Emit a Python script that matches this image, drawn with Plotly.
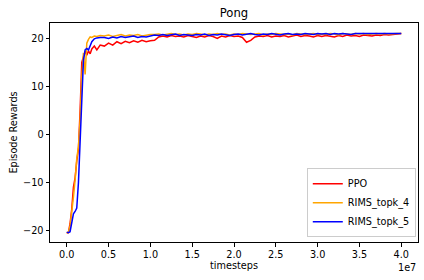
import plotly.graph_objects as go

# timesteps (in units of 1e7)
t_early = [0.00, 0.02, 0.04, 0.06, 0.08, 0.10, 0.12, 0.14, 0.16, 0.18, 0.20,
           0.22, 0.24, 0.26, 0.28, 0.30, 0.33, 0.36, 0.40]
t_late = [round(0.45 + 0.05 * i, 2) for i in range(72)]
timesteps = [v * 1e7 for v in t_early + t_late]

ppo = [-20.5, -20.4, -18.5, -15.5, -11.0, -9.0, -5.5, -3.0, 5.0, 15.0, 16.2,
       17.3, 16.5, 17.4, 16.8, 17.8, 18.4, 17.6, 18.6,
       18.4, 19.0, 18.6, 19.3, 18.9, 19.4, 19.1, 19.5, 19.2, 19.6, 19.3, 19.5,
       19.6, 20.3, 20.5, 20.3, 20.6, 20.4, 20.5, 20.3, 20.6, 20.4, 20.2, 20.5, 20.3, 20.6, 20.4, 20.0, 20.5, 20.3, 20.6, 20.4,
       20.5, 20.2, 19.2, 19.6, 20.3, 20.5, 20.4, 20.6, 20.3, 20.5, 20.4, 20.6, 20.3, 20.5, 20.7, 20.4, 20.6, 20.5, 20.3, 20.6,
       20.4, 20.6, 20.5, 20.3, 20.6, 20.4, 20.7, 20.5, 20.6, 20.4, 20.7, 20.6, 20.5, 20.7, 20.6, 20.8, 20.7, 20.8, 20.9, 21.0]

rims_topk_4 = [-20.5, -20.3, -19.0, -16.5, -13.0, -9.5, -5.0, -2.5, 3.0, 12.0, 17.0,
               12.5, 19.0, 19.8, 20.3, 20.2, 20.5, 20.4, 20.6,
               20.5, 20.7, 20.4, 20.6, 20.8, 20.5, 20.7, 20.6, 20.8, 20.5, 20.7, 20.8,
               20.8, 20.9, 20.7, 20.8, 21.0, 20.8, 20.9, 20.7, 20.9, 20.8, 21.0, 20.9, 20.7, 20.9, 20.8, 21.0, 20.8, 20.9, 20.7, 20.9,
               20.8, 21.0, 20.9, 20.8, 20.9, 21.0, 20.7, 20.9, 20.8, 21.0, 20.9, 20.8, 20.9, 20.7, 21.0, 20.9, 20.8, 20.9, 21.0, 20.8,
               20.9, 20.8, 21.0, 20.9, 20.7, 21.0, 20.9, 20.8, 21.0, 20.9, 21.0, 20.8, 20.9, 21.0, 20.9, 21.0, 20.9, 21.0, 21.0, 21.0]

rims_topk_5 = [-20.3, -20.4, -20.2, -18.5, -16.5, -16.0, -15.3, -10.0, -2.0, 8.0, 15.5,
               17.6, 17.9, 17.6, 18.7, 19.3, 19.9, 20.1, 20.2,
               20.2, 20.0, 20.3, 20.1, 20.4, 20.2, 20.3, 20.5, 20.2, 20.4, 20.3, 20.5,
               20.7, 20.6, 20.8, 20.6, 20.7, 20.9, 20.6, 20.8, 20.7, 20.6, 20.8, 20.7, 20.9, 20.6, 20.8, 20.7, 20.9, 20.8, 20.6, 20.8,
               20.9, 20.7, 20.8, 21.0, 20.8, 20.7, 20.9, 20.8, 21.0, 20.9, 20.7, 20.9, 21.0, 20.8, 20.9, 20.8, 21.0, 20.9, 20.8, 21.0,
               20.9, 21.0, 20.8, 21.0, 20.9, 21.0, 20.9, 20.8, 21.0, 21.0, 20.9, 21.0, 20.9, 21.0, 21.0, 20.9, 21.0, 21.0, 21.0, 21.0]

series = [("PPO", ppo, "red"), ("RIMS_topk_4", rims_topk_4, "orange"), ("RIMS_topk_5", rims_topk_5, "blue")]

x_tick_vals = [0.0, 0.5, 1.0, 1.5, 2.0, 2.5, 3.0, 3.5, 4.0]
x_tick_text = ["0.0", "0.5", "1.0", "1.5", "2.0", "2.5", "3.0", "3.5", "4.0"]
y_tick_vals = [-20, -10, 0, 10, 20]
y_tick_text = ["\u221220", "\u221210", "0", "10", "20"]

fig = go.Figure()
for name, ys, color in series:
    fig.add_trace(go.Scatter(x=timesteps, y=ys, mode="lines", name=name,
                             line=dict(color=color, width=1.5)))

FS = 9.7
font = dict(family="DejaVu Sans", size=FS, color="black")
fig.update_layout(
    width=424, height=280,
    margin=dict(l=50, r=6, t=22.5, b=38.3, autoexpand=False),
    plot_bgcolor="white", paper_bgcolor="white",
    font=font,
    title=dict(text="Pong", x=(50 + 418) / 2 / 424, xanchor="center", y=1 - 13 / 280, yanchor="middle",
               font=dict(family="DejaVu Sans", size=11.6, color="black")),
    showlegend=True,
    legend=dict(x=0.994, y=0.022, xanchor="right", yanchor="bottom",
                bgcolor="rgba(255,255,255,0.8)", bordercolor="#cccccc", borderwidth=1,
                font=dict(family="DejaVu Sans", size=FS, color="black"),
                itemwidth=30, tracegroupgap=0),
)
fig.update_xaxes(range=[-0.2e7, 4.2e7], tickvals=[v * 1e7 for v in x_tick_vals], ticktext=x_tick_text,
                 showgrid=False, zeroline=False, showline=True, linecolor="black", linewidth=1, mirror=True,
                 ticks="outside", ticklen=3.5, tickcolor="black", automargin=False,
                 title=dict(text="timesteps", standoff=3, font=font))
fig.update_yaxes(range=[-22.35, 23.2], tickvals=y_tick_vals, ticktext=y_tick_text,
                 showgrid=False, zeroline=False, showline=True, linecolor="black", linewidth=1, mirror=True,
                 ticks="outside", ticklen=3.5, tickcolor="black", automargin=False,
                 title=dict(text="Episode Rewards", standoff=3, font=font))
fig.add_annotation(text="1e7", xref="paper", yref="paper", x=1.0, y=-0.115, xanchor="right", yanchor="middle",
                   showarrow=False, font=font)

fig.write_html("out.html", config={"displayModeBar": False},
               post_script="document.body.style.margin='0';document.body.style.padding='0';")
